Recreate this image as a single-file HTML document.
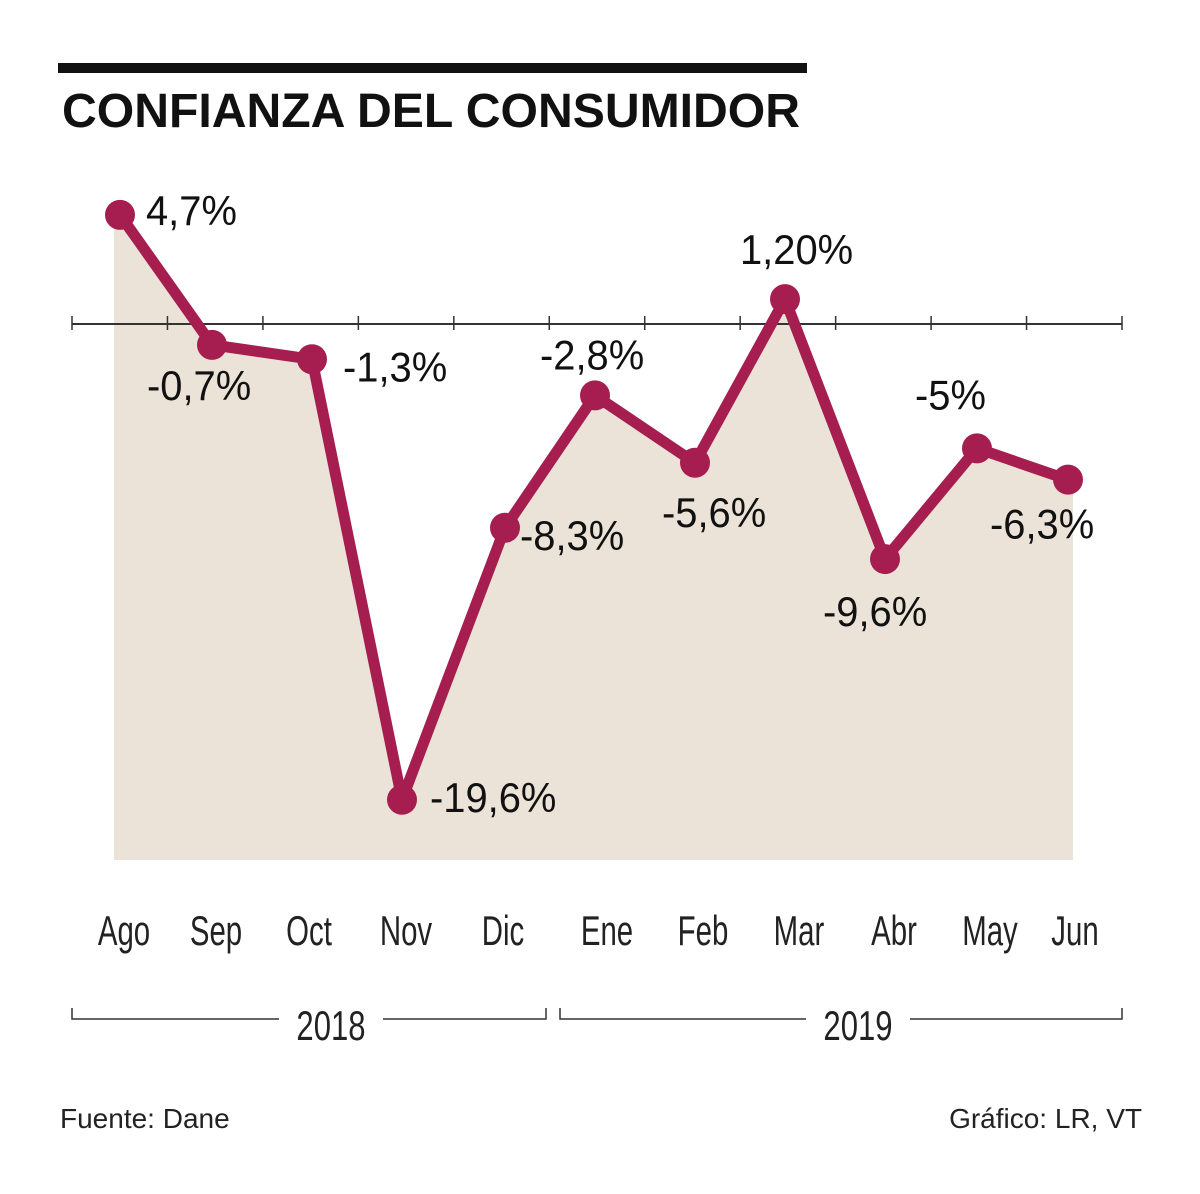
<!DOCTYPE html>
<html><head><meta charset="utf-8"><style>
body{margin:0;background:#fff;}
svg text{font-family:"Liberation Sans",sans-serif;}
</style></head><body>
<svg width="1200" height="1189" viewBox="0 0 1200 1189">
<rect x="58" y="63" width="749" height="10" fill="#111"/>
<text x="62" y="127" font-size="48" font-weight="bold" fill="#111" textLength="738" lengthAdjust="spacingAndGlyphs">CONFIANZA DEL CONSUMIDOR</text>
<g id="plot"></g>
<text x="60" y="1128" font-size="28" fill="#222">Fuente: Dane</text>
<text x="1142" y="1128" font-size="28" fill="#222" text-anchor="end">Gráfico: LR, VT</text>
</svg>
<script>
const months=["Ago","Sep","Oct","Nov","Dic","Ene","Feb","Mar","Abr","May","Jun"];
const values=[4.7,-0.7,-1.3,-19.6,-8.3,-2.8,-5.6,1.2,-9.6,-5,-6.3];
const valueLabels=["4,7%","-0,7%","-1,3%","-19,6%","-8,3%","-2,8%","-5,6%","1,20%","-9,6%","-5%","-6,3%"];
const years=["2018","2019"];
const NS="http://www.w3.org/2000/svg";
const g=document.getElementById('plot');
const xs=[120,212,312,402,505,595,695,785,885,977,1068];
const monthX=[124,216,309,406,503,607,703,799,894,990,1075];
function x(i){return xs[i];}
function y(v){return 328-v*24.07;}
function el(t,a){const e=document.createElementNS(NS,t);for(const k in a)e.setAttribute(k,a[k]);g.appendChild(e);return e;}
let pts=values.map((v,i)=>[x(i),y(v)]);
let area="M114,"+pts[0][1]+" "+pts.map(p=>"L"+p[0]+","+p[1]).join(" ")+" L1073,"+pts[10][1]+" L1073,860 L114,860 Z";
let a=el('path',{d:area,fill:"#ebe3d7"});


let ax=el('line',{x1:72,y1:324,x2:1122,y2:324,stroke:"#333","stroke-width":2});


for(let k=0;k<12;k++){const tx=72+k*(1122-72)/11;
let t=el('line',{x1:tx,y1:316,x2:tx,y2:330,stroke:"#333","stroke-width":1.5});

}
let ln=el('polyline',{points:pts.map(p=>p.join(",")).join(" "),fill:"none",stroke:"#a61e50","stroke-width":11,"stroke-linejoin":"round"});


const off=[[26,10],[-65,55],[31,22],[28,12],[15,22],[-55,-26],[-33,64],[-45,-35],[-62,67],[-62,-39],[-78,59]];
pts.forEach((p,i)=>{
let c=el('circle',{cx:p[0],cy:p[1],r:15,fill:"#a61e50"});


const lx=p[0]+off[i][0];
let t=el('text',{x:lx,y:p[1]+off[i][1],"font-size":42,fill:"#111",transform:`translate(${lx*0.05},0) scale(0.95,1)`});
t.textContent=valueLabels[i];


const mx=monthX[i];
let m=el('text',{x:mx,y:945,"font-size":42,fill:"#222","text-anchor":"middle",transform:`translate(${mx*0.3},0) scale(0.7,1)`});
m.textContent=months[i];


});
const br=[[72,546,331],[560,1122,858]];
br.forEach((b,i)=>{
let p=el('path',{d:`M${b[0]},1008 V1019 H${b[2]-52} M${b[2]+52},1019 H${b[1]} V1008`,fill:"none",stroke:"#333","stroke-width":1.5});


let t=el('text',{x:b[2],y:1040,"font-size":42,fill:"#222","text-anchor":"middle",transform:`translate(${b[2]*0.26},0) scale(0.74,1)`});
t.textContent=years[i];


});
</script>
</body></html>
